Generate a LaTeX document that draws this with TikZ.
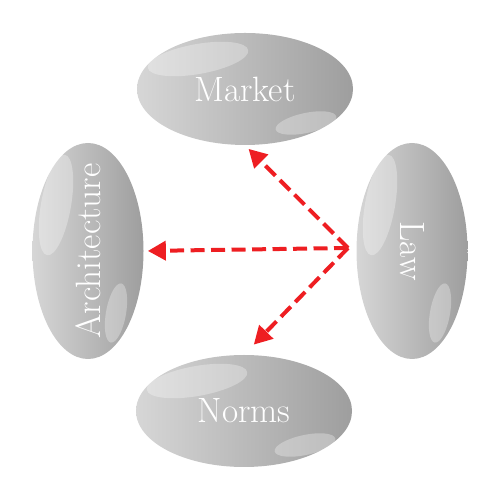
\documentclass[tikz,border=0pt]{standalone}
\usetikzlibrary{shapes.geometric,arrows.meta}
\definecolor{linkred}{RGB}{238,30,34}
\tikzset{
    gloss/.style={white, opacity=.3},
    pill/.style={
        ellipse, inner sep=0pt, text=white,
        left color=black!16, right color=black!38,
        font=\fontsize{20}{22}\selectfont
    },
    hpill/.style={pill, minimum width=4.32cm, minimum height=2.24cm},
    vpill/.style={pill, minimum width=2.22cm, minimum height=4.32cm},
    link/.style={linkred, line width=0.08cm, dash pattern=on 0.28cm off 0.13cm,
        -{Triangle[length=0.36cm, width=0.38cm]}}
}
% shine on a lying and on a standing pill
\newcommand{\hshine}[1]{
    \begin{scope}[shift={(#1.center)}]
    \begin{scope}[xshift=-0.94cm, yshift=0.6cm, rotate=10]
    \fill[gloss] (0,0) ellipse (1.02 and 0.3);
    \end{scope}
    \begin{scope}[xshift=1.22cm, yshift=-0.68cm, rotate=12]
    \fill[gloss] (0,0) ellipse (0.62 and 0.2);
    \end{scope}
    \end{scope}
}
\newcommand{\vshine}[1]{
    \begin{scope}[shift={(#1.center)}]
    \begin{scope}[xshift=-0.64cm, yshift=0.92cm, rotate=-10]
    \fill[gloss] (0,0) ellipse (0.3 and 1.02);
    \end{scope}
    \begin{scope}[xshift=0.56cm, yshift=-1.24cm, rotate=-10]
    \fill[gloss] (0,0) ellipse (0.2 and 0.6);
    \end{scope}
    \end{scope}
}
\begin{document}
\begin{tikzpicture}
\useasboundingbox (0,0) rectangle (10,10);

\node[hpill] (market) at (4.9,8.22) {\makebox[0pt]{Market}};
\node[vpill] (arch) at (1.76,4.98) {\rotatebox{90}{\makebox[0pt]{Architecture}}};
\node[vpill] (law) at (8.24,4.98) {\rotatebox{-90}{\makebox[0pt]{Law}}};
\node[hpill] (norms) at (4.88,1.78) {\makebox[0pt]{Norms}};

\hshine{market}
\vshine{arch}
\vshine{law}
\hshine{norms}

\coordinate (hub) at (6.96,5.04);

% law acts on the other three
\draw[link, shorten >=0.1cm] (hub) -- (market.south);
\draw[link, shorten >=0.08cm] (hub) -- (arch.east);
\draw[link, shorten >=0.28cm] (hub) -- (norms.north);
\end{tikzpicture}
\end{document}
